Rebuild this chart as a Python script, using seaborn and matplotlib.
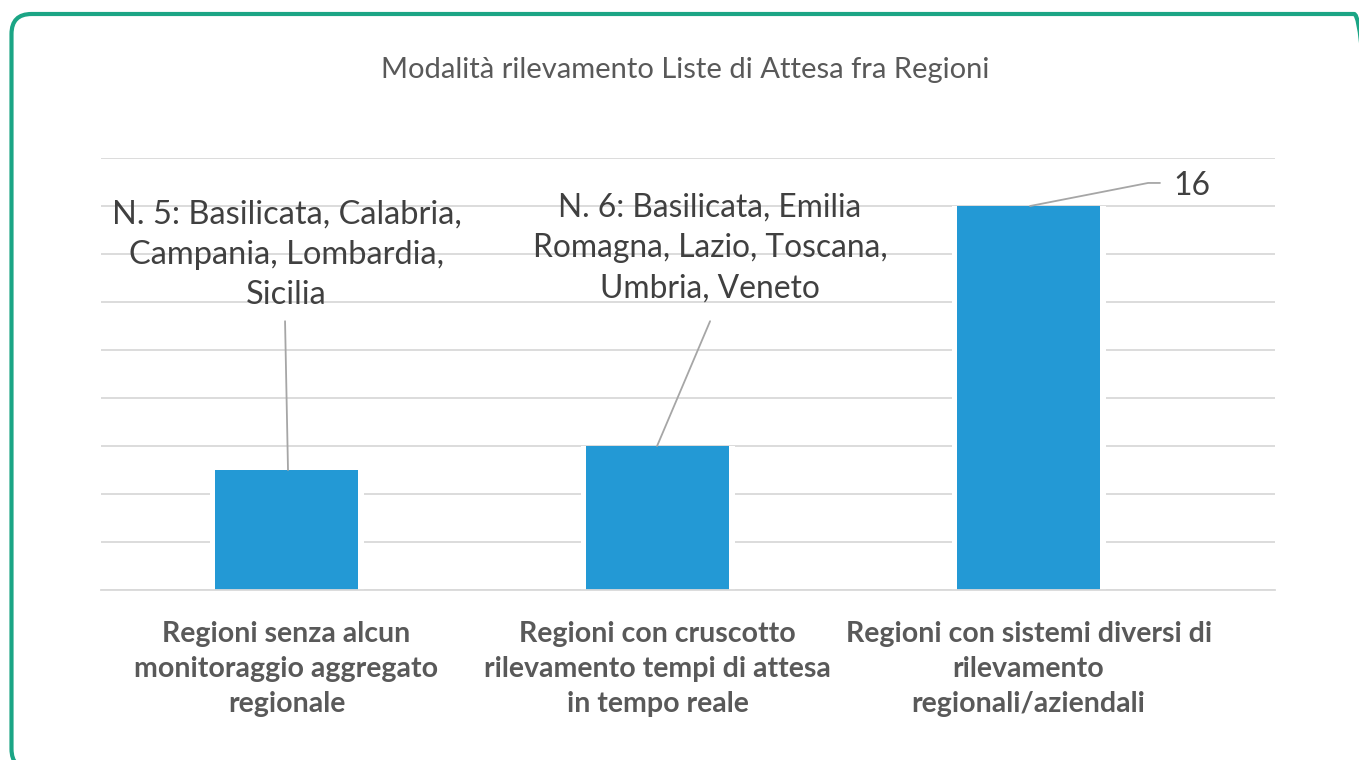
import matplotlib
matplotlib.use("Agg")
import matplotlib.pyplot as plt
from matplotlib.patches import FancyBboxPatch
import seaborn as sns
import numpy as np

# ---- data ----
categories = [
    "Regioni senza alcun\nmonitoraggio aggregato\nregionale",
    "Regioni con cruscotto\nrilevamento tempi di attesa\nin tempo reale",
    "Regioni con sistemi diversi di\nrilevamento\nregionali/aziendali",
]
values = [5, 6, 16]
point_labels = [
    "N. 5: Basilicata, Calabria,\nCampania, Lombardia,\nSicilia",
    "N. 6: Basilicata, Emilia\nRomagna, Lazio, Toscana,\nUmbria, Veneto",
    "16",
]
title = "Modalità rilevamento Liste di Attesa fra Regioni"
yticks = list(range(0, 20, 2))

# ---- style ----
sns.set_theme(style="white")
plt.rcParams["font.family"] = ["Lato", "DejaVu Sans"]
plt.rcParams["savefig.bbox"] = "standard"

W, H, DPI = 1359, 760, 100
fig = plt.figure(figsize=(W / DPI, H / DPI), dpi=DPI)
fig.patch.set_facecolor("white")

# rounded frame in display (pixel) coordinates, running off the right/bottom edges
frame = FancyBboxPatch((11.5, H - 769), 1374 - 11.5, 769 - 14,
                       boxstyle="round,pad=0,rounding_size=20",
                       fill=False, edgecolor="#1BA585", linewidth=3.0,
                       transform=None, clip_on=False)
fig.add_artist(frame)

ax = fig.add_axes([101 / W, 1 - 590 / H, (1275 - 101) / W, (590 - 158) / H], zorder=1)
ax.patch.set_alpha(0)

grid_c = "#D9D9D9"
bar_c = "#2399D5"

# white halo bars (gaps in gridlines), then blue bars
sns.barplot(x=list(range(3)), y=values, ax=ax, color="white", width=0.415,
            saturation=1, native_scale=True, linewidth=0)
sns.barplot(x=list(range(3)), y=values, ax=ax, color=bar_c, width=0.385,
            saturation=1, native_scale=True, linewidth=0)

ax.set_ylim(0, 18)
ax.set_xlim(-0.5, 2.664)
ax.set_yticks(yticks)
ax.set_yticklabels([])
ax.tick_params(axis="y", length=0)
ax.yaxis.grid(True, color=grid_c, linewidth=1.3)
ax.set_axisbelow(True)
for s in ["top", "left", "right"]:
    ax.spines[s].set_visible(False)
ax.spines["bottom"].set_color(grid_c)
ax.spines["bottom"].set_linewidth(1.3)
ax.set_xlabel("")
ax.set_ylabel("")

ax.set_xticks(range(3))
ax.set_xticklabels(categories, fontsize=20.5, fontweight="bold", color="#595959",
                   linespacing=1.43)
ax.tick_params(axis="x", which="major", length=0, pad=22)
ax.set_xticks([-0.5, 0.5, 1.5, 2.5], minor=True)
ax.tick_params(axis="x", which="minor", length=8, width=1.3, color=grid_c, direction="out")

# title
fig.text(685 / W, 1 - 70 / H, title, ha="center", va="center", fontsize=21,
         color="#595959")

# data labels with leader lines
lab_c = "#404040"
lead_c = "#A6A6A6"
fs_lab = 22.9
# label 1
ax.text(0.0, values[0] + 8.96, point_labels[0], ha="center", va="center",
        fontsize=23.5, color=lab_c, linespacing=1.42)
ax.plot([-0.004, 0.004], [values[0] + 6.2, values[0]], color=lead_c, lw=1.3, clip_on=False)
# label 2
ax.text(1.1415, values[1] + 8.25, point_labels[1], ha="center", va="center",
        fontsize=fs_lab, color=lab_c, linespacing=1.44)
ax.plot([1.1415, 0.9987], [values[1] + 5.2, values[1]], color=lead_c, lw=1.3, clip_on=False)
# label 3
ax.text(2.39, values[2] + 0.83, point_labels[2], ha="left", va="center",
        fontsize=fs_lab, color=lab_c)
ax.plot([2.004, 2.322, 2.354], [values[2], values[2] + 0.96, values[2] + 0.96],
        color=lead_c, lw=1.3, clip_on=False)

fig.savefig("out.png", dpi=DPI)
